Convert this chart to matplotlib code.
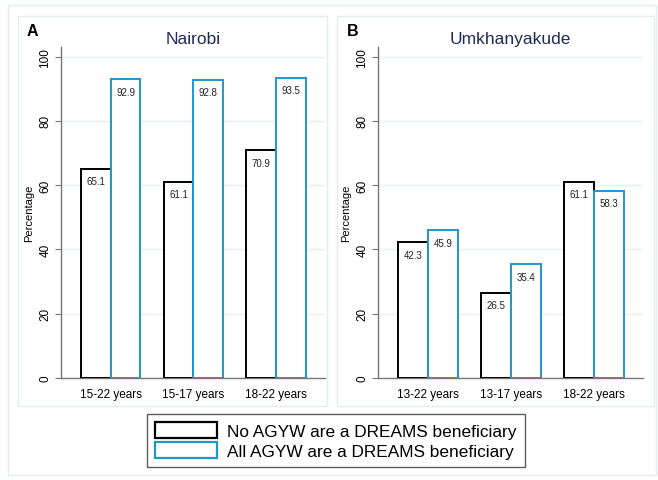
import numpy as np
import matplotlib
matplotlib.use("Agg")
import matplotlib.pyplot as plt
from matplotlib.patches import Rectangle, Patch

plt.rcParams['font.family'] = ['Liberation Sans', 'DejaVu Sans']

# data
nairobi_groups = ["15-22 years", "15-17 years", "18-22 years"]
nairobi_none = [65.1, 61.1, 70.9]
nairobi_all = [92.9, 92.8, 93.5]

umkh_groups = ["13-22 years", "13-17 years", "18-22 years"]
umkh_none = [42.3, 26.5, 61.1]
umkh_all = [45.9, 35.4, 58.3]

legend_labels = ["No AGYW are a DREAMS beneficiary",
                 "All AGYW are a DREAMS beneficiary"]

blue = "#1f96cc"
grid_c = "#e6eff1"
frame_c = "#e3ecee"
title_c = "#1c2b5a"

W, H = 658, 481
fig = plt.figure(figsize=(W / 100, H / 100), dpi=100)


def px_rect(x0, y0, x1, y1):
    return [x0 / W, 1 - y1 / H, (x1 - x0) / W, (y1 - y0) / H]


# outer frame and panel boxes
for (x0, y0, x1, y1) in [(8, 6, 656, 476), (18, 17, 327, 407), (337, 17, 654, 407)]:
    l, b, w, h = px_rect(x0, y0, x1, y1)
    fig.patches.append(Rectangle((l, b), w, h, transform=fig.transFigure,
                                 fill=False, edgecolor=frame_c, lw=1.0, zorder=0))


def panel(rect, groups, none_vals, all_vals, title, letter, letter_x):
    ax = fig.add_axes(px_rect(*rect))
    x = np.arange(len(groups))
    w = 0.36
    b1 = ax.bar(x - w / 2, none_vals, w, facecolor="white", edgecolor="black", lw=1.4, zorder=3)
    b2 = ax.bar(x + w / 2, all_vals, w, facecolor="white", edgecolor=blue, lw=1.4, zorder=3)
    for bars, vals in [(b1, none_vals), (b2, all_vals)]:
        for r, v in zip(bars, vals):
            ax.annotate(f"{v:.1f}", (r.get_x() + r.get_width() / 2, v),
                        xytext=(0, -9), textcoords="offset points",
                        ha="center", va="center", fontsize=7, color="#222222", zorder=4)
    ax.set_xlim(-0.6, 2.59)
    ax.set_ylim(0, 103)
    ax.set_yticks([0, 20, 40, 60, 80, 100])
    ax.set_yticklabels(["0", "20", "40", "60", "80", "100"], rotation=90, va="center", fontsize=8.5)
    ax.set_xticks(x)
    ax.set_xticklabels(groups, fontsize=8.5)
    ax.tick_params(axis="x", length=0, pad=7)
    ax.tick_params(axis="y", length=4, color="#777777", pad=3)
    ax.set_ylabel("Percentage", fontsize=8, labelpad=4)
    ax.grid(axis="y", color=grid_c, lw=1.0, zorder=0)
    ax.set_axisbelow(True)
    for s in ["top", "right"]:
        ax.spines[s].set_visible(False)
    for s in ["left", "bottom"]:
        ax.spines[s].set_color("#777777")
        ax.spines[s].set_linewidth(1.0)
    ax.set_title(title, fontsize=12.5, color=title_c, pad=3)
    fig.text(letter_x / W, 1 - 32 / H, letter, fontsize=11.5, fontweight="bold",
             ha="left", va="center")
    return ax, b1, b2


axA, h1, h2 = panel((61, 48, 325, 379), nairobi_groups, nairobi_none, nairobi_all,
                    "Nairobi", "A", 27)
axB, _, _ = panel((378, 48, 643, 379), umkh_groups, umkh_none, umkh_all,
                  "Umkhanyakude", "B", 347)

handles = [Patch(facecolor="white", edgecolor="black", lw=1.6),
           Patch(facecolor="white", edgecolor=blue, lw=1.6)]
leg = fig.legend(handles, legend_labels, loc="center",
                 bbox_to_anchor=(336 / W, 1 - 441.5 / H), fontsize=12.4,
                 frameon=True, fancybox=False, edgecolor="#333333",
                 handlelength=3.6, handleheight=1.0, handletextpad=0.6,
                 labelspacing=0.2, borderpad=0.45, borderaxespad=0)
leg.get_frame().set_linewidth(1.0)

fig.savefig("out.png", dpi=100)
